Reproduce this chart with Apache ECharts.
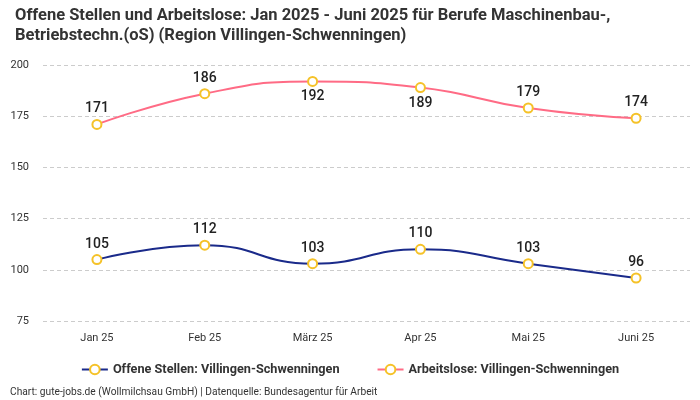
<!DOCTYPE html>
<html>
<head>
<meta charset="utf-8">
<script src="https://cdn.jsdelivr.net/npm/echarts@6/dist/echarts.min.js"></script>
<style>html,body{margin:0;padding:0;background:#fff}#c{width:700px;height:400px}</style>
</head>
<body>
<div id="c"></div>
<script>
var categories = ["Jan 25", "Feb 25", "März 25", "Apr 25", "Mai 25", "Juni 25"];
var offeneStellen = [105, 112, 103, 110, 103, 96];
var arbeitslose = [171, 186, 192, 189, 179, 174];
var arbeitsloseLabelPos = ["top", "top", "bottom", "bottom", "top", "top"];
var yTicks = { min: 75, max: 200, interval: 25 };
var seriesNames = ["Offene Stellen: Villingen-Schwenningen", "Arbeitslose: Villingen-Schwenningen"];
var lineColors = ["#1a2a8a", "#ff6b85"];
var markerColor = "#f5c228";

var font = "Roboto, 'Noto Sans', sans-serif";
var chart = echarts.init(document.getElementById('c'));
chart.setOption({
  animation: false,
  title: {
    text: "Offene Stellen und Arbeitslose: Jan 2025 - Juni 2025 für Berufe Maschinenbau-,\nBetriebstechn.(oS) (Region Villingen-Schwenningen)",
    left: 10, top: 1,
    textStyle: { fontFamily: font, fontSize: 16.5, fontWeight: 'bold', color: '#333', lineHeight: 20 }
  },
  graphic: [{
    type: 'text', left: 10, top: 387,
    style: { text: "Chart: gute-jobs.de (Wollmilchsau GmbH) | Datenquelle: Bundesagentur für Arbeit", fontFamily: font, fontSize: 10.2, fill: '#333' }
  }],
  legend: {
    bottom: 19, left: 'center', itemGap: 37, itemWidth: 26, itemHeight: 12,
    textStyle: { fontFamily: font, fontSize: 12.7, fontWeight: 'bold', color: '#333' },
    data: seriesNames.map(function (n, i) {
      return { name: n, lineStyle: { color: lineColors[i], width: 2 }, itemStyle: { color: markerColor, borderWidth: 2 } };
    })
  },
  grid: { left: 43, right: 10, top: 65, bottom: 79 },
  xAxis: {
    type: 'category', data: categories, boundaryGap: true,
    axisLine: { show: false }, axisTick: { show: false },
    axisLabel: { fontFamily: font, fontSize: 11, color: '#333', margin: 12 }
  },
  yAxis: {
    type: 'value', min: yTicks.min, max: yTicks.max, interval: yTicks.interval,
    axisLine: { show: false }, axisTick: { show: false },
    axisLabel: { fontFamily: font, fontSize: 11, color: '#333', margin: 14 },
    splitLine: { lineStyle: { type: [4, 3], color: '#ccc' } }
  },
  series: [{
    name: seriesNames[0],
    type: 'line', smooth: true, data: offeneStellen,
    symbol: 'emptyCircle', symbolSize: 9,
    lineStyle: { color: lineColors[0], width: 2 },
    itemStyle: { color: markerColor, borderWidth: 2 },
    label: { show: true, position: 'top', distance: 3, fontFamily: font, fontSize: 14, fontWeight: 500, color: '#222' }
  }, {
    name: seriesNames[1],
    type: 'line', smooth: true,
    data: arbeitslose.map(function (v, i) { return { value: v, label: { position: arbeitsloseLabelPos[i] } }; }),
    symbol: 'emptyCircle', symbolSize: 9,
    lineStyle: { color: lineColors[1], width: 2 },
    itemStyle: { color: markerColor, borderWidth: 2 },
    label: { show: true, position: 'top', distance: 3, fontFamily: font, fontSize: 14, fontWeight: 500, color: '#222' }
  }]
});
</script>
</body>
</html>
